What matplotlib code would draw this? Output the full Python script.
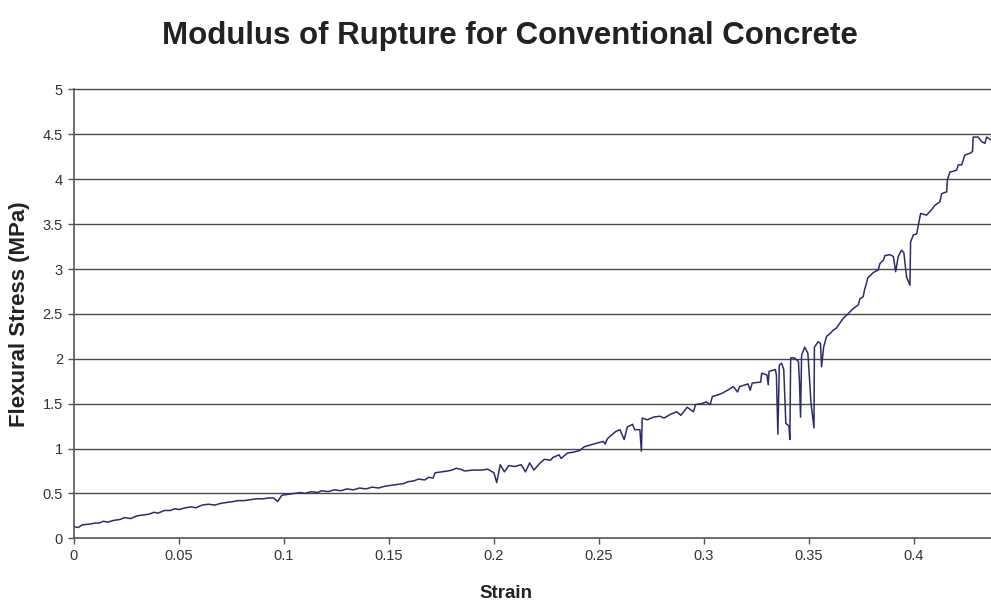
import matplotlib
matplotlib.use("Agg")
import matplotlib.pyplot as plt

# strain / stress
strain = [
    0.000, 0.002, 0.004, 0.008, 0.010, 0.012, 0.014, 0.016, 0.019, 0.022,
    0.024, 0.027, 0.030, 0.033, 0.036, 0.038, 0.040, 0.043, 0.046, 0.048,
    0.050, 0.053, 0.056, 0.058, 0.061, 0.064, 0.067, 0.070, 0.073, 0.076,
    0.078, 0.081, 0.084, 0.087, 0.090, 0.093, 0.095, 0.097, 0.099, 0.102,
    0.105, 0.108, 0.110, 0.113, 0.116, 0.118, 0.121, 0.124, 0.127, 0.130,
    0.133, 0.136, 0.139, 0.142, 0.145, 0.148, 0.151, 0.154, 0.157, 0.159,
    0.162, 0.164, 0.167, 0.169, 0.171, 0.172, 0.175, 0.178, 0.180, 0.182,
    0.184, 0.186, 0.190, 0.194, 0.197, 0.200, 0.2013, 0.203, 0.205, 0.207,
    0.210, 0.213, 0.215, 0.217, 0.219, 0.222, 0.224, 0.227, 0.228, 0.231,
    0.232, 0.235, 0.238, 0.241, 0.243, 0.246, 0.249, 0.252, 0.253, 0.254,
    0.256, 0.258, 0.260, 0.262, 0.2635, 0.266, 0.267, 0.2695, 0.2702, 0.2706,
    0.273, 0.276, 0.279, 0.281, 0.284, 0.287, 0.289, 0.292, 0.295, 0.296,
    0.299, 0.301, 0.303, 0.304, 0.307, 0.309, 0.312, 0.314, 0.316, 0.317,
    0.321, 0.322, 0.323, 0.327, 0.3275, 0.330, 0.3306, 0.331, 0.334, 0.3345,
    0.3352, 0.3359, 0.337, 0.338, 0.339, 0.340, 0.3405, 0.3409, 0.3413, 0.343,
    0.345, 0.3455, 0.346, 0.3465, 0.348, 0.3495, 0.351, 0.3524, 0.3526, 0.3544,
    0.3555, 0.356, 0.357, 0.3584, 0.360, 0.3616, 0.363, 0.3663, 0.369, 0.3711,
    0.3735, 0.3743, 0.3758, 0.3765, 0.3775, 0.378, 0.3806, 0.383, 0.3838, 0.3855,
    0.3862, 0.3886, 0.3902, 0.3913, 0.3925, 0.3941, 0.3952, 0.3965, 0.3981, 0.3984,
    0.3997, 0.4013, 0.4021, 0.4032, 0.406, 0.4084, 0.410, 0.4124, 0.4132, 0.4156,
    0.4159, 0.4171, 0.4203, 0.4211, 0.4227, 0.4243, 0.4267, 0.4279, 0.4282, 0.4306,
    0.4322, 0.4338, 0.4346, 0.4367,
]
stress = [
    0.13, 0.12, 0.15, 0.16, 0.17, 0.17, 0.19, 0.18, 0.20, 0.21,
    0.23, 0.22, 0.25, 0.26, 0.27, 0.29, 0.28, 0.31, 0.31, 0.33,
    0.32, 0.34, 0.35, 0.34, 0.37, 0.38, 0.37, 0.39, 0.40, 0.41,
    0.42, 0.42, 0.43, 0.44, 0.44, 0.45, 0.45, 0.41, 0.48, 0.49,
    0.50, 0.51, 0.50, 0.52, 0.51, 0.53, 0.52, 0.54, 0.53, 0.55,
    0.54, 0.56, 0.55, 0.57, 0.56, 0.58, 0.59, 0.60, 0.61, 0.63,
    0.64, 0.66, 0.65, 0.68, 0.67, 0.73, 0.74, 0.75, 0.76, 0.78,
    0.77, 0.75, 0.76, 0.76, 0.77, 0.73, 0.62, 0.82, 0.74, 0.81,
    0.80, 0.82, 0.74, 0.84, 0.76, 0.84, 0.88, 0.87, 0.90, 0.93,
    0.89, 0.95, 0.96, 0.98, 1.02, 1.04, 1.06, 1.08, 1.05, 1.11,
    1.15, 1.19, 1.21, 1.10, 1.24, 1.27, 1.21, 1.21, 0.97, 1.34,
    1.32, 1.35, 1.36, 1.34, 1.38, 1.41, 1.37, 1.46, 1.41, 1.49,
    1.50, 1.52, 1.49, 1.58, 1.60, 1.62, 1.66, 1.69, 1.63, 1.69,
    1.72, 1.65, 1.73, 1.74, 1.84, 1.82, 1.71, 1.86, 1.88, 1.82,
    1.16, 1.93, 1.95, 1.88, 1.28, 1.26, 1.25, 1.10, 2.01, 2.01,
    1.97, 1.73, 1.35, 2.04, 2.13, 2.06, 1.50, 1.23, 2.13, 2.19,
    2.17, 1.91, 2.13, 2.25, 2.28, 2.32, 2.34, 2.45, 2.51, 2.56,
    2.60, 2.67, 2.69, 2.77, 2.85, 2.90, 2.96, 2.99, 3.06, 3.10,
    3.15, 3.16, 3.14, 2.97, 3.14, 3.21, 3.18, 2.91, 2.82, 3.30,
    3.38, 3.39, 3.49, 3.62, 3.60, 3.66, 3.71, 3.75, 3.84, 3.86,
    3.99, 4.08, 4.10, 4.16, 4.16, 4.27, 4.29, 4.31, 4.47, 4.47,
    4.42, 4.40, 4.47, 4.44,
]
x_ticks = [0, 0.05, 0.1, 0.15, 0.2, 0.25, 0.3, 0.35, 0.4]
x_labels = ["0", "0.05", "0.1", "0.15", "0.2", "0.25", "0.3", "0.35", "0.4"]
y_ticks = [0, 0.5, 1, 1.5, 2, 2.5, 3, 3.5, 4, 4.5, 5]
y_labels = ["0", "0.5", "1", "1.5", "2", "2.5", "3", "3.5", "4", "4.5", "5"]

plt.rcParams['font.family'] = ['Liberation Sans', 'DejaVu Sans']

fig = plt.figure(figsize=(9.91, 6.06), dpi=100)
ax = fig.add_axes([74 / 991, 67.7 / 606, 1 - 74 / 991, 448.8 / 606])

ax.plot(strain, stress, color='#2b2d6b', linewidth=1.1, solid_joinstyle='round')

ax.set_xlim(0, 0.4367)
ax.set_ylim(0, 5)
ax.set_xticks(x_ticks)
ax.set_xticklabels(x_labels)
ax.set_yticks(y_ticks)
ax.set_yticklabels(y_labels)
ax.tick_params(axis='both', labelsize=10.5, colors='#555555', labelcolor='#333333',
               length=4, width=1, direction='out', pad=4)

for y in y_ticks[1:]:
    ax.axhline(y, color='#4a4a4a', linewidth=1.0, zorder=0, clip_on=False)

for side in ['top', 'right']:
    ax.spines[side].set_visible(False)
for side in ['left', 'bottom']:
    ax.spines[side].set_color('#555555')
    ax.spines[side].set_linewidth(1.2)

fig.text(510 / 991, 1 - 36 / 606, 'Modulus of Rupture for Conventional Concrete',
         ha='center', va='center', fontsize=22.5, fontweight='bold', color='#222222')
fig.text(506 / 991, 1 - 593 / 606, 'Strain', ha='center', va='center',
         fontsize=13.5, fontweight='bold', color='#222222')
fig.text(20 / 991, 1 - 314 / 606, 'Flexural Stress (MPa)', ha='center', va='center',
         rotation=90, fontsize=16, fontweight='bold', color='#222222')

fig.savefig('out.png', dpi=100)
